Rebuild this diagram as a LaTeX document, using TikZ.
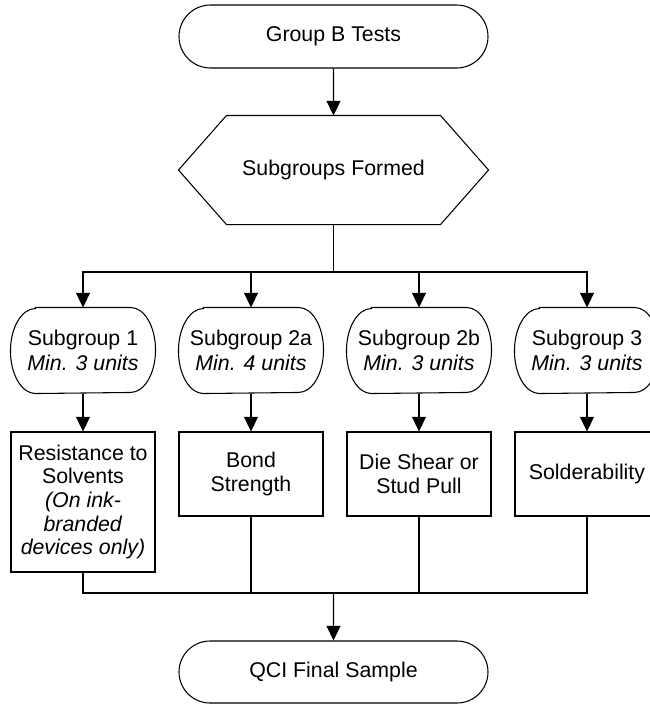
\documentclass[tikz,border=0pt]{standalone}
\usepackage{fontspec}
\setmainfont{Liberation Sans}
\usetikzlibrary{arrows.meta,shapes.misc,calc}
\begin{document}
\begin{tikzpicture}[x=0.75pt,y=-0.75pt, line width=0.8pt,
  every node/.style={font=\fontsize{16}{18.5}\selectfont, align=center, inner sep=0pt},
  term/.style={draw, rounded rectangle, minimum width=231.75pt, minimum height=47.25pt},
  subnode/.style={minimum width=108pt, minimum height=63.75pt},
  testbox/.style={draw, rectangle, minimum width=108pt},
  arr/.style={-{Triangle[width=10.5pt,length=11pt]}}]
\clip (0,0) rectangle (650,704);
\fill[white] (0,0) rectangle (650,704);

\node[term] (top) at (333.5,36.5) {Group B Tests};
\node[minimum width=231.75pt, minimum height=81pt] (hex) at (333.5,170) {Subgroups Formed};
\draw ($(hex.north west)+(48,0)$) -- ($(hex.north east)+(-48,0)$) -- (hex.east)
  -- ($(hex.south east)+(-48,0)$) -- ($(hex.south west)+(48,0)$) -- (hex.west) -- cycle;

\foreach \n/\x/\t in {s1/83/{Subgroup 1\\\textit{Min. 3 units}},
                      s2/251/{Subgroup 2a\\\textit{Min. 4 units}},
                      s3/419/{Subgroup 2b\\\textit{Min. 3 units}},
                      s4/587/{Subgroup 3\\\textit{Min. 3 units}}}{
  \node[subnode] (\n) at (\x,350.5) {\t};
  \draw ($(\n.north west)+(25,0)$) -- ($(\n.north east)+(-25,0)$)
    arc[start angle=90, end angle=-90, x radius=18.75pt, y radius=31.875pt]
    -- ($(\n.south west)+(25,0)$)
    arc[start angle=270, end angle=90, x radius=18.75pt, y radius=31.875pt] -- cycle;
}

\node[testbox, minimum height=105pt, font=\fontsize{16}{17.8}\selectfont] (b1) at (83,502) {Resistance to\\Solvents\\\textit{(On ink-}\\\textit{branded}\\\textit{devices only)}};
\node[testbox, minimum height=63pt] (b2) at (251,474) {Bond\\Strength};
\node[testbox, minimum height=63pt] (b3) at (419,474) {Die Shear or\\Stud Pull};
\node[testbox, minimum height=63pt] (b4) at (587,474) {Solderability};

\node[term, minimum height=46.5pt] (fin) at (333.5,672) {QCI Final Sample};

\coordinate (j1) at (333.5,272);
\coordinate (j2) at (333.5,593);

\draw[arr] (top) -- (hex);
\draw (hex.south) -- (j1);
\foreach \n in {s1,s2,s3,s4}{\draw[arr] (j1) -| (\n);}
\foreach \i in {1,2,3,4}{\draw[arr] (s\i) -- (b\i);}
\foreach \n in {b1,b2,b3,b4}{\draw (\n) |- (j2);}
\draw[arr] (j2) -- (fin);
\end{tikzpicture}
\end{document}
